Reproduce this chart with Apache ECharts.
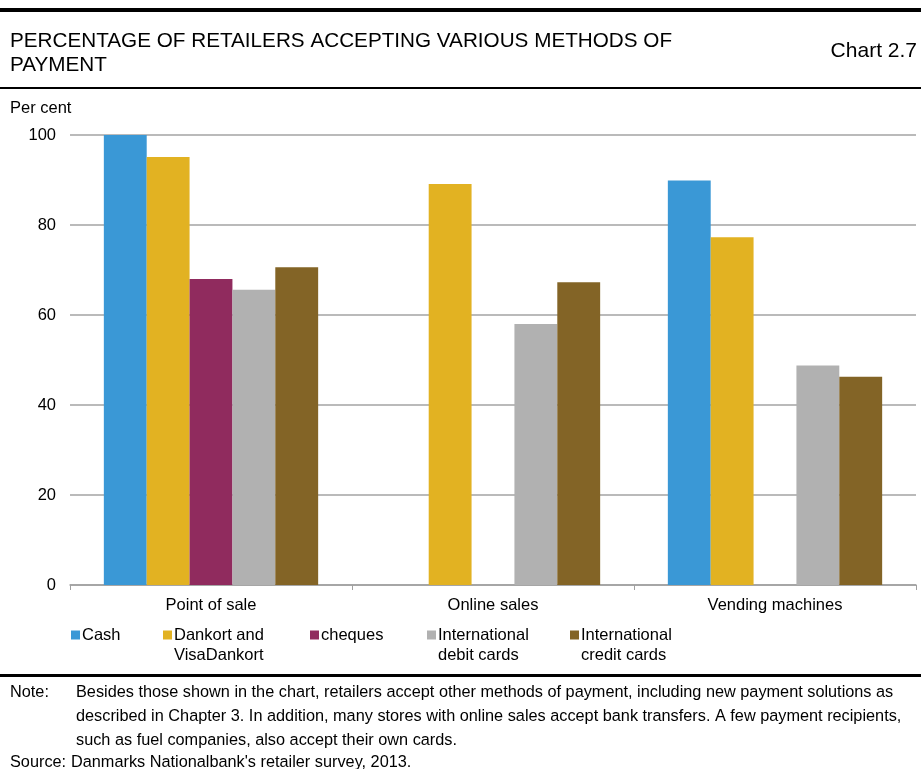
<!DOCTYPE html>
<html>
<head>
<meta charset="utf-8">
<script src="https://cdn.jsdelivr.net/npm/echarts@6/dist/echarts.min.js"></script>
<style>
html,body{margin:0;padding:0;background:#fff;}
#chart{width:921px;height:769px;}
</style>
</head>
<body>
<div id="chart"></div>
<script>
var categories = ['Point of sale', 'Online sales', 'Vending machines'];
var seriesNames = ['Cash', 'Dankort and VisaDankort', 'cheques', 'International debit cards', 'International credit cards'];
var cash = [100, null, 89.9];
var dankort = [95.1, 89.1, 77.3];
var cheques = [68.0, null, null];
var intlDebit = [65.6, 58.0, 48.8];
var intlCredit = [70.6, 67.3, 46.3];
var yTicks = [0, 20, 40, 60, 80, 100];

var colors = ['#3a98d6', '#e2b222', '#902b5e', '#b1b1b1', '#836426'];
var legendLabels = {
  'Cash': 'Cash',
  'Dankort and VisaDankort': '\nDankort and\nVisaDankort',
  'cheques': 'cheques',
  'International debit cards': '\nInternational\ndebit cards',
  'International credit cards': '\nInternational\ncredit cards'
};
var legendLeft = [71, 163, 310, 427, 570];
var FONT = '"Liberation Sans", Arial, Helvetica, sans-serif';
var allData = [cash, dankort, cheques, intlDebit, intlCredit];

var chart = echarts.init(document.getElementById('chart'), null, {renderer: 'canvas'});

var legends = seriesNames.map(function (n, i) {
  var multi = legendLabels[n].indexOf('\n') >= 0;
  return {
    left: legendLeft[i],
    top: multi ? 605 : 625,
    padding: 0,
    orient: 'horizontal',
    icon: 'rect',
    itemWidth: 9,
    itemHeight: 9,
    selectedMode: false,
    formatter: function (name) { return legendLabels[name]; },
    data: [{
      name: n,
      textStyle: {
        fontFamily: FONT, fontSize: 16.5, color: '#000', lineHeight: 20,
        padding: [0, 0, 0, -3]
      }
    }]
  };
});

var option = {
  animation: false,
  backgroundColor: '#fff',
  color: colors,
  textStyle: {fontFamily: FONT},
  title: [
    {
      text: 'PERCENTAGE OF RETAILERS ACCEPTING VARIOUS METHODS OF\nPAYMENT',
      left: 10, top: 29,
      padding: 0,
      textStyle: {fontFamily: FONT, fontSize: 20.7, fontWeight: 'normal', color: '#000', lineHeight: 24}
    },
    {
      text: 'Chart 2.7',
      right: 4, top: 41,
      padding: 0,
      textStyle: {fontFamily: FONT, fontSize: 21, fontWeight: 'normal', color: '#000'}
    },
    {
      text: 'Per cent',
      left: 10, top: 100,
      padding: 0,
      textStyle: {fontFamily: FONT, fontSize: 16.5, fontWeight: 'normal', color: '#000'}
    }
  ],
  legend: legends,
  grid: {left: 70, right: 5, top: 135, bottom: 184, containLabel: false},
  xAxis: {
    type: 'category',
    data: categories,
    boundaryGap: true,
    axisLine: {show: true, lineStyle: {color: '#a0a0a0', width: 1.5}},
    axisTick: {show: true, length: 5, inside: false, lineStyle: {color: '#a0a0a0', width: 1}},
    axisLabel: {fontFamily: FONT, fontSize: 16.5, color: '#000', margin: 12}
  },
  yAxis: {
    type: 'value',
    min: yTicks[0],
    max: yTicks[yTicks.length - 1],
    interval: 20,
    axisLine: {show: false},
    axisTick: {show: false},
    axisLabel: {fontFamily: FONT, fontSize: 16.5, color: '#000', margin: 14},
    splitLine: {show: true, lineStyle: {color: '#a3a3a3', width: 1.5}}
  },
  series: seriesNames.map(function (n, i) {
    return {
      name: n,
      type: 'bar',
      data: allData[i],
      barGap: '0%',
      barCategoryGap: '24%',
      itemStyle: {color: colors[i]}
    };
  }),
  graphic: [
    {type: 'rect', shape: {x: 0, y: 8, width: 921, height: 4}, style: {fill: '#000'}},
    {type: 'rect', shape: {x: 0, y: 87, width: 921, height: 2}, style: {fill: '#000'}},
    {type: 'rect', shape: {x: 0, y: 674, width: 921, height: 3}, style: {fill: '#000'}},
    {type: 'text', left: 10, top: 685, style: {text: 'Note:', font: '16.3px ' + FONT, fill: '#000'}},
    {type: 'text', left: 76, top: 681, style: {
      text: 'Besides those shown in the chart, retailers accept other methods of payment, including new payment solutions as\ndescribed in Chapter 3. In addition, many stores with online sales accept bank transfers. A few payment recipients,\nsuch as fuel companies, also accept their own cards.',
      font: '16.3px ' + FONT, fill: '#000', lineHeight: 24}},
    {type: 'text', left: 10, top: 755, style: {text: 'Source:', font: '16.3px ' + FONT, fill: '#000'}},
    {type: 'text', left: 71, top: 755, style: {text: 'Danmarks Nationalbank\'s retailer survey, 2013.', font: '16.3px ' + FONT, fill: '#000'}}
  ]
};
chart.setOption(option);
</script>
</body>
</html>
